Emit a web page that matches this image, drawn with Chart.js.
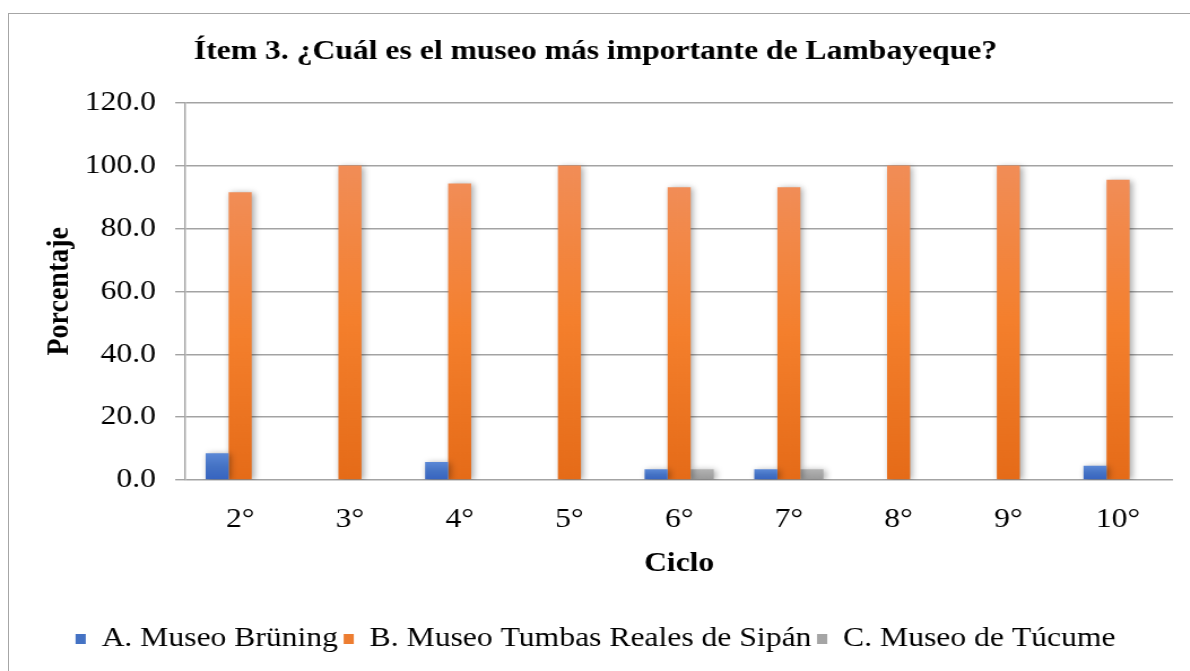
<!DOCTYPE html>
<html>
<head>
<meta charset="utf-8">
<script src="https://cdn.jsdelivr.net/npm/chart.js@4"></script>
<style>
  html, body { margin: 0; padding: 0; background: #fff; overflow: hidden; }
  #wrap { position: relative; width: 1190px; height: 671px; overflow: hidden; }
  #frame { position: absolute; left: 8px; top: 13px; width: 1300px; height: 800px;
           border: 1.5px solid #a6a6a6; box-sizing: border-box; }
  /* the original picture is slightly stretched horizontally */
  #museoChart { position: absolute; left: 0; top: 0; transform: scaleX(1.13); transform-origin: 0 0; }
</style>
</head>
<body>
<div id="wrap">
  <div id="frame"></div>
  <canvas id="museoChart" width="1053" height="671"></canvas>
</div>
<script>
// Datos
const ciclos = ["2°", "3°", "4°", "5°", "6°", "7°", "8°", "9°", "10°"];
const bruning = [8.5, 0, 5.7, 0, 3.4, 3.4, 0, 0, 4.5];
const sipan = [91.5, 100, 94.3, 100, 93.1, 93.1, 100, 100, 95.5];
const tucume = [0, 0, 0, 0, 3.4, 3.4, 0, 0, 0];
const yTicks = [0, 20, 40, 60, 80, 100, 120];

Chart.defaults.font.family = "'Liberation Serif', 'Times New Roman', serif";
Chart.defaults.color = "#000";

// degradado vertical por barra (más claro arriba)
function barGradient(solid, top, bottom) {
  return function (ctx) {
    const chart = ctx.chart;
    if (ctx.type !== "data" || !chart.chartArea || !chart.scales.y) return solid;
    const v = ctx.parsed ? ctx.parsed.y : 0;
    const y0 = chart.scales.y.getPixelForValue(0);
    const y1 = chart.scales.y.getPixelForValue(v);
    if (!isFinite(y1) || y0 - y1 < 1) return solid;
    const g = chart.ctx.createLinearGradient(0, y1, 0, y0);
    g.addColorStop(0, top);
    g.addColorStop(0.5, solid);
    g.addColorStop(1, bottom);
    return g;
  };
}

// sombra suave detrás de las barras
const barShadow = {
  id: "barShadow",
  beforeDatasetsDraw(chart) {
    const c = chart.ctx;
    c.save();
    c.shadowColor = "rgba(0,0,0,0.35)";
    c.shadowBlur = 6;
    c.shadowOffsetX = 2;
    c.shadowOffsetY = 1;
  },
  afterDatasetsDraw(chart) {
    chart.ctx.restore();
  }
};

const ctx = document.getElementById("museoChart").getContext("2d");
new Chart(ctx, {
  type: "bar",
  data: {
    labels: ciclos,
    datasets: [
      {
        label: "A. Museo Brüning",
        data: bruning,
        backgroundColor: barGradient("#4472c4", "#5b88d6", "#3663c0"),
        legendColor: "#4472c4"
      },
      {
        label: "B. Museo Tumbas Reales de Sipán",
        data: sipan,
        backgroundColor: barGradient("#f47f2c", "#f18d57", "#e56b18"),
        legendColor: "#ed7d31"
      },
      {
        label: "C. Museo de Túcume",
        data: tucume,
        backgroundColor: barGradient("#a5a5a5", "#b3b3b3", "#999999"),
        legendColor: "#a5a5a5"
      }
    ]
  },
  options: {
    responsive: false,
    animation: false,
    layout: { padding: { left: 16, right: 15, top: 0, bottom: 8 } },
    datasets: { bar: { categoryPercentage: 0.63, barPercentage: 1.0 } },
    plugins: {
      title: {
        display: true,
        text: "Ítem 3. ¿Cuál es el museo más importante de Lambayeque?",
        font: { size: 28, weight: "bold" },
        color: "#000",
        padding: { top: 35, bottom: 34 }
      },
      legend: {
        position: "bottom",
        labels: {
          font: { size: 28 },
          boxWidth: 9,
          boxHeight: 10,
          padding: 5,
          color: "#000",
          generateLabels(chart) {
            return chart.data.datasets.map(function (ds, i) {
              return {
                text: ds.label,
                fillStyle: ds.legendColor,
                strokeStyle: ds.legendColor,
                lineWidth: 0,
                datasetIndex: i,
                hidden: false
              };
            });
          }
        }
      },
      tooltip: { enabled: false }
    },
    scales: {
      x: {
        afterFit(scale) { scale.height = 140; },
        grid: { display: false, drawTicks: false },
        border: { display: false },
        ticks: { font: { size: 28 }, padding: 23, color: "#000" },
        title: {
          display: true,
          text: "Ciclo",
          font: { size: 28, weight: "bold" },
          color: "#000",
          padding: { top: 10, bottom: 39 }
        }
      },
      y: {
        min: 0,
        max: 120,
        afterFit(scale) { scale.width = 148; },
        afterBuildTicks(scale) {
          scale.ticks = yTicks.map(function (v) { return { value: v }; });
        },
        grid: { color: "#a3a3a3", lineWidth: 1.4, tickLength: 9 },
        border: { display: true, color: "#a3a3a3", width: 1.4 },
        ticks: {
          font: { size: 28 },
          padding: 17,
          color: "#000",
          callback: function (v) { return Number(v).toFixed(1); }
        },
        title: {
          display: true,
          text: "Porcentaje",
          font: { size: 28, weight: "bold" },
          color: "#000",
          padding: { top: 20, bottom: 8 }
        }
      }
    }
  },
  plugins: [barShadow]
});
</script>
</body>
</html>
